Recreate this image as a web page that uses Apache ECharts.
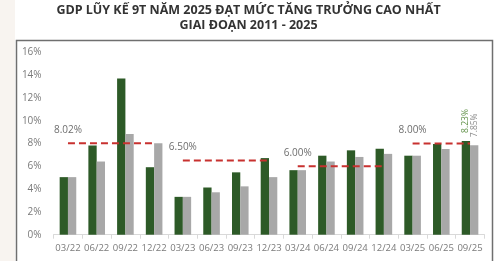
<!DOCTYPE html>
<html><head><meta charset="utf-8">
<script src="https://cdn.jsdelivr.net/npm/echarts@6/dist/echarts.min.js"></script>
<style>html,body{margin:0;padding:0;background:#fff;}#c{width:497px;height:261px;}</style>
</head><body><div id="c"></div>
<script>
const categories = ['03/22','06/22','09/22','12/22','03/23','06/23','09/23','12/23','03/24','06/24','09/24','12/24','03/25','06/25','09/25'];
const quarterly = [5.05, 7.83, 13.71, 5.92, 3.32, 4.14, 5.47, 6.72, 5.66, 6.93, 7.40, 7.55, 6.93, 7.96, 8.23];
const cumulative = [5.05, 6.42, 8.83, 8.02, 3.32, 3.72, 4.24, 5.05, 5.66, 6.42, 6.82, 7.09, 6.93, 7.52, 7.85];
const targetValues = [8.02, 6.5, 6.0, 8.0];
const targetLabels = ['8.02%', '6.50%', '6.00%', '8.00%'];
const targetStart = [0, 4, 8, 12];
const targetEnd = [2.93, 6.93, 10.93, 14];
const yTicks = [0, 2, 4, 6, 8, 10, 12, 14, 16];
const titleText = 'GDP LŨY KẾ 9T NĂM 2025 ĐẠT MỨC TĂNG TRƯỞNG CAO NHẤT\nGIAI ĐOẠN 2011 - 2025';

const chart = echarts.init(document.getElementById('c'), null, {renderer: 'canvas'});
const FONT = '"Open Sans", "Noto Sans", sans-serif';
const last = categories.length - 1;

function barData(vals, color) {
  return vals.map((v, i) => i === last ? {
    value: v,
    label: {show: true, position: 'top', rotate: 90, align: 'left', verticalAlign: 'middle',
      distance: 8, formatter: v.toFixed(2) + '%', color: color, fontSize: 8.5, fontFamily: FONT}
  } : v);
}

const targetSeries = targetValues.map((v, k) => ({
  type: 'line', xAxisIndex: 1, yAxisIndex: 0,
  symbol: 'circle', symbolSize: 0.01, showSymbol: true, silent: true,
  itemStyle: {color: 'rgba(0,0,0,0)'},
  lineStyle: {color: '#c8312f', width: 2, type: [7, 4]},
  z: 5,
  data: [
    {value: [targetStart[k], v], label: {show: true, position: 'top', distance: 8, formatter: targetLabels[k],
      color: '#6e6e6e', fontSize: 10, fontFamily: FONT}},
    {value: [targetEnd[k], v]}
  ]
}));

chart.setOption({
  animation: false,
  backgroundColor: '#ffffff',
  graphic: [
    {type: 'rect', shape: {x: 0, y: 0, width: 15, height: 261}, style: {fill: '#f8f4f0'}, silent: true, z: -10},
    {type: 'rect', shape: {x: 16.5, y: 40.5, width: 476, height: 240}, style: {fill: '#ffffff', stroke: '#6f6f6f', lineWidth: 1.5}, silent: true, z: -5}
  ],
  title: {
    text: titleText, left: 'center', top: -2,
    textStyle: {fontFamily: FONT, fontWeight: 'bold', fontSize: 12.5, lineHeight: 15, color: '#333333'}
  },
  grid: {left: 53.6, right: 12.6, top: 52.3, bottom: 26.3, containLabel: false},
  xAxis: [
    {type: 'category', data: categories, boundaryGap: true,
      axisLine: {show: true, lineStyle: {color: '#d9d9d9', width: 1}},
      axisTick: {show: true, length: 4, lineStyle: {color: '#d9d9d9'}},
      axisLabel: {color: '#7a7a7a', fontSize: 9.5, fontFamily: FONT, margin: 9, interval: 0}},
    {type: 'value', min: -0.5, max: 14.5, show: false}
  ],
  yAxis: [{type: 'value', min: 0, max: 16, interval: 2,
    axisLine: {show: false}, axisTick: {show: false}, splitLine: {show: false},
    axisLabel: {color: '#7a7a7a', fontSize: 10, fontFamily: FONT, margin: 12,
      formatter: v => yTicks.includes(v) ? v + '%' : ''}}],
  series: [
    {type: 'bar', name: 'Quý', data: barData(quarterly, '#5e8f45'), barWidth: 8.3, barGap: '0%',
      itemStyle: {color: '#2d5a27'}, z: 2},
    {type: 'bar', name: 'Lũy kế', data: barData(cumulative, '#8a8a8a'), barWidth: 8.3, barGap: '0%',
      itemStyle: {color: '#a8a8a8'}, z: 2}
  ].concat(targetSeries)
});
</script></body></html>
